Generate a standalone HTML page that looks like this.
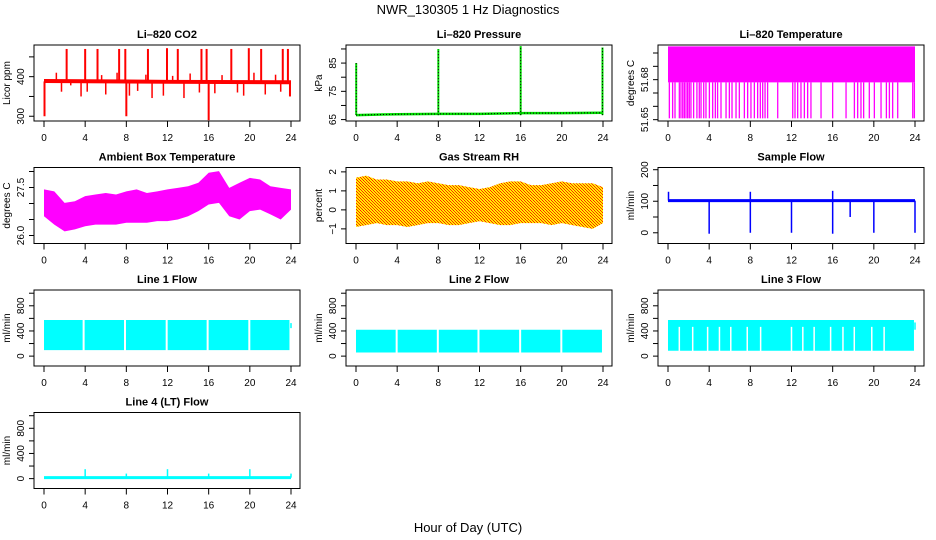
<!DOCTYPE html>
<html><head><meta charset="utf-8">
<style>
html,body{margin:0;padding:0;background:#fff;}
svg{display:block;font-family:"Liberation Sans",Arial,sans-serif;}
</style></head>
<body>
<svg id="chart" width="936" height="540" viewBox="0 0 936 540" xmlns="http://www.w3.org/2000/svg">
<defs>
<pattern id="rhdots" width="3" height="3" patternUnits="userSpaceOnUse">
<rect width="3" height="3" fill="#ffee00"/>
<rect x="0" y="0" width="1" height="1" fill="#ff2200"/>
<rect x="1" y="1" width="1" height="1" fill="#ff3300"/>
<rect x="2" y="2" width="1" height="1" fill="#ff2200"/>
</pattern>
</defs>
<text x="468" y="14" font-size="13" text-anchor="middle">NWR_130305  1 Hz Diagnostics</text>
<text x="468" y="532" font-size="13" text-anchor="middle">Hour of Day (UTC)</text>
</svg>
<script>
// ---------- data ----------
const xTicks=[0,4,8,12,16,20,24];
// CO2
const co2BaseHours=[0,12,24];
const co2BaseValues=[389,387,386];
const co2SpikeHours=[2.2,4.0,5.2,7.3,7.9,10.1,11.95,13.0,15.3,15.8,18.2,19.9,21.1,23.2,23.7];
const co2SpikeValues=[470,470,470,470,470,470,472,470,470,470,470,472,470,470,470];
const co2SmallHours=[1.2,1.7,2.6,3.6,4.2,5.6,6.0,7.1,8.3,9.1,9.9,10.5,11.6,12.5,13.6,14.2,15.1,16.6,17.3,18.8,19.4,20.4,21.5,22.5,23.0];
const co2SmallValues=[410,362,378,350,362,404,355,410,352,364,405,346,352,402,346,408,360,358,404,360,352,410,355,405,362];
const co2DipHours=[0.05,8.0,16.0,23.9];
const co2DipValues=[300,300,290,350];
// Pressure
const presBaseHours=[0,4,8,12,16,20,24];
const presBaseValues=[66.6,66.9,67.0,67.0,67.3,67.3,67.4];
const presSpikeHours=[0.02,8.0,16.0,23.95];
const presSpikeValues=[85,90,91,90.5];
// Li-820 temperature
const tempBandTop=51.705;
const tempBandBottom=51.678;
const tempSpikeHours=[0.13,0.45,0.68,1.10,1.26,1.43,1.59,1.75,1.91,2.07,2.23,2.49,2.81,3.04,3.21,3.47,3.69,4.02,4.34,4.60,4.82,5.15,5.64,5.96,6.22,6.61,6.93,7.42,7.74,8.06,8.39,8.71,8.97,9.20,9.43,9.68,10.66,12.12,12.34,12.60,12.92,13.25,13.57,13.89,14.87,16.0,17.3,18.11,18.43,18.75,19.01,19.56,20.05,20.70,21.22,21.51,21.83,22.32,23.78,23.94];
const tempSpikeValue=51.651;
// Ambient box temperature (hourly envelope)
const ambHours=[0,1,2,3,4,5,6,7,8,9,10,11,12,13,14,15,16,17,18,19,20,21,22,23,24];
const ambTop=[27.44,27.38,27.02,27.07,27.23,27.28,27.33,27.28,27.38,27.44,27.33,27.38,27.44,27.49,27.54,27.65,27.96,28.01,27.49,27.65,27.80,27.75,27.54,27.49,27.44];
const ambBottom=[26.60,26.34,26.13,26.19,26.29,26.34,26.34,26.34,26.40,26.40,26.40,26.45,26.45,26.50,26.60,26.76,26.97,27.02,26.60,26.50,26.76,26.81,26.66,26.50,26.81];
// Gas stream RH (hourly envelope)
const rhTop=[1.7,1.8,1.6,1.6,1.5,1.5,1.4,1.5,1.4,1.3,1.3,1.2,1.1,1.2,1.4,1.5,1.5,1.3,1.3,1.4,1.5,1.4,1.4,1.4,1.2];
const rhBottom=[-0.9,-0.8,-0.7,-0.8,-0.8,-0.9,-0.8,-0.7,-0.7,-0.8,-0.8,-0.7,-0.6,-0.7,-0.8,-0.8,-0.7,-0.7,-0.7,-0.8,-0.7,-0.8,-0.9,-1.0,-0.7];
// Sample flow
const sfBase=102;
const sfDipHours=[4,8,12,16,20,24];
const sfDipValues=[-3,0,0,-3,0,0];
const sfSpikeHours=[0.05,8.0,16.0,17.7];
const sfSpikeValues=[130,130,133,50];
// Line flows
const l1Band=[95,575];
const l1GapHours=[3.85,7.87,11.92,15.9,19.95];
const l2Band=[58,420];
const l2GapHours=[3.95,7.95,11.9,15.95,19.95];
const l3Band=[85,575];
const l3GapHours=[1.1,2.4,3.85,5.0,6.1,7.7,9.0,12.0,13.1,14.2,15.8,17.0,18.1,19.8,21.0];
const l3GapTop=465;
const l4Base=15;
const l4SpikeHours=[4,8,12,16,20,24];
const l4SpikeValues=[150,80,150,80,150,80];

// ---------- helpers ----------
const NS='http://www.w3.org/2000/svg';
const svg=document.getElementById('chart');
function mk(tag,attrs,parent){const e=document.createElementNS(NS,tag);for(const k in attrs)e.setAttribute(k,attrs[k]);(parent||svg).appendChild(e);return e;}

function makePanel(name,col,row,title,ylab,ylim,ticks,labs){
  const L=[34,346,658][col], T=[45,167.5,290,412.5][row], W=266, H=76;
  const g=mk('g',{});
  
  
  const x=h=>L+10+h*247/24;
  const y=v=>T+H-(v-ylim[0])/(ylim[1]-ylim[0])*H;
  const t=mk('text',{x:L+W/2,y:T-7,'font-size':11,'font-weight':'bold','text-anchor':'middle'},g);
  t.textContent=title;
  
  
  const yl=mk('text',{x:0,y:0,'font-size':10,'text-anchor':'middle',transform:`translate(${L-24},${T+H/2}) rotate(-90)`},g);
  yl.textContent=ylab;
  
  
  const xa=mk('g',{},g);
  
  
  mk('line',{x1:x(0),x2:x(24),y1:T+H,y2:T+H,stroke:'#000'},xa);
  xTicks.forEach(h=>{
    mk('line',{x1:x(h),x2:x(h),y1:T+H,y2:T+H+6,stroke:'#000'},xa);
    const lt=mk('text',{x:x(h),y:T+H+20,'font-size':10,'text-anchor':'middle'},xa);
    lt.textContent=h;
  });
  const ya=mk('g',{},g);
  
  
  ticks.forEach((v,i)=>{
    mk('line',{x1:L-5,x2:L,y1:y(v),y2:y(v),stroke:'#000'},ya);
    if(labs[i]!==''){
      const lt=mk('text',{x:0,y:0,'font-size':10,'text-anchor':'middle',transform:`translate(${L-10},${y(v)}) rotate(-90)`},ya);
      lt.textContent=labs[i];
    }
  });
  const data=mk('g',{},g);
  
  
  const box=mk('rect',{x:L,y:T,width:W,height:H,fill:'none',stroke:'#000'},g);
  
  
  return {x,y,g:data};
}
function vline(p,h,v1,v2,color,w,parent,nm){
  const l=mk('line',{x1:p.x(h),x2:p.x(h),y1:p.y(v1),y2:p.y(v2),stroke:color,'stroke-width':w},parent||p.g);
  
  
  return l;
}
function poly(p,hs,vals,color,w,nm){
  const pts=hs.map((h,i)=>p.x(h)+','+p.y(vals[i])).join(' ');
  const l=mk('polyline',{points:pts,fill:'none',stroke:color,'stroke-width':w},p.g);
  
  
  return l;
}
function band(p,hs,top,bot,fill,nm){
  const pts=hs.map((h,i)=>p.x(h)+','+p.y(top[i])).concat(hs.slice().reverse().map((h,i)=>p.x(h)+','+p.y(bot[hs.length-1-i]))).join(' ');
  const a=mk('polygon',{points:pts,fill:fill,stroke:'none'},p.g);
  
  
  return a;
}

// ---------- CO2 ----------
const pCo2=makePanel('co2',0,0,'Li\u2013820 CO2','Licor ppm',[288,480],[300,350,400,450],['300','','400','']);
co2SmallHours.forEach((h,i)=>vline(pCo2,h,co2BaseValues[0]-2,co2SmallValues[i],'#ff0000',1.5,null,'co2-small-spike'));
co2SpikeHours.forEach((h,i)=>vline(pCo2,h,388,co2SpikeValues[i],'#ff0000',2,null,'co2-spike'));
co2DipHours.forEach((h,i)=>vline(pCo2,h,388,co2DipValues[i],'#ff0000',2,null,'co2-dip'));
poly(pCo2,co2BaseHours,co2BaseValues,'#ff0000',4,'co2-baseline');

// ---------- Pressure ----------
const pPres=makePanel('pressure',1,0,'Li\u2013820 Pressure','kPa',[64.5,91.4],[65,70,75,80,85,90],['65','','75','','85','']);
poly(pPres,presBaseHours,presBaseValues,'#00dd00',2.5,'pressure-line');
poly(pPres,presBaseHours,presBaseValues,'#000',1,'pressure-line-dots').setAttribute('stroke-dasharray','1,2');
presSpikeHours.forEach((h,i)=>{
  vline(pPres,h,66.6,presSpikeValues[i],'#00dd00',2,null,'pressure-spike');
  vline(pPres,h,66.6,presSpikeValues[i],'#000',1,null,'pressure-spike-dots').setAttribute('stroke-dasharray','1,2');
});

// ---------- Li-820 temperature ----------
const pTemp=makePanel('licor-temp',2,0,'Li\u2013820 Temperature','degrees C',[51.649,51.706],[51.65,51.66,51.67,51.68,51.69,51.70],['51.65','','','51.68','','']);
band(pTemp,[0,24],[tempBandTop,tempBandTop],[tempBandBottom,tempBandBottom],'#ff00ff','licor-temp-band');
tempSpikeHours.forEach(h=>vline(pTemp,h,tempBandBottom,tempSpikeValue,'#ff00ff',1.3,null,'licor-temp-spike'));

// ---------- Ambient ----------
const pAmb=makePanel('ambient-temp',0,1,'Ambient Box Temperature','degrees C',[25.75,28.125],[26.0,26.5,27.0,27.5,28.0],['26.0','','','27.5','']);
band(pAmb,ambHours,ambTop,ambBottom,'#ff00ff','ambient-temp-band');

// ---------- RH ----------
const pRh=makePanel('gas-rh',1,1,'Gas Stream RH','percent',[-1.77,2.23],[-1,0,1,2],['\u22121','0','1','2']);
band(pRh,ambHours,rhTop,rhBottom,'url(#rhdots)','gas-rh-band');

// ---------- Sample flow ----------
const pSf=makePanel('sample-flow',2,1,'Sample Flow','ml/min',[-34,207],[0,50,100,150,200],['0','','100','','200']);
poly(pSf,[0,24],[sfBase,sfBase],'#0000ff',3,'sample-flow-line');
sfDipHours.forEach((h,i)=>vline(pSf,h,sfBase,sfDipValues[i],'#0000ff',1.5,null,'sample-flow-dip'));
sfSpikeHours.forEach((h,i)=>vline(pSf,h,sfBase,sfSpikeValues[i],'#0000ff',1.5,null,'sample-flow-spike'));

// ---------- Line flows ----------
const flowTicks=[0,200,400,600,800,1000], flowLabs=['0','','400','','800',''];
const pL1=makePanel('line1-flow',0,2,'Line 1 Flow','ml/min',[-157,1051],flowTicks,flowLabs);
band(pL1,[0,23.85],[l1Band[1],l1Band[1]],[l1Band[0],l1Band[0]],'#00ffff','line1-flow-band');
vline(pL1,24,l1Band[0]+350,l1Band[1]-50,'#00ffff',1.5,null,'line1-flow-end');
l1GapHours.forEach(h=>vline(pL1,h,l1Band[0]-5,l1Band[1]+5,'#fff',2,null,'line1-flow-gap'));

const pL2=makePanel('line2-flow',1,2,'Line 2 Flow','ml/min',[-157,1051],flowTicks,flowLabs);
band(pL2,[0,23.9],[l2Band[1],l2Band[1]],[l2Band[0],l2Band[0]],'#00ffff','line2-flow-band');
l2GapHours.forEach(h=>vline(pL2,h,l2Band[0]-5,l2Band[1]+5,'#fff',2,null,'line2-flow-gap'));

const pL3=makePanel('line3-flow',2,2,'Line 3 Flow','ml/min',[-157,1051],flowTicks,flowLabs);
band(pL3,[0,23.9],[l3Band[1],l3Band[1]],[l3Band[0],l3Band[0]],'#00ffff','line3-flow-band');
vline(pL3,24,420,l3Band[1]-40,'#00ffff',1.5,null,'line3-flow-end');
l3GapHours.forEach(h=>vline(pL3,h,l3Band[0]-5,l3GapTop,'#fff',1.5,null,'line3-flow-gap'));

const pL4=makePanel('line4-flow',0,3,'Line 4 (LT) Flow','ml/min',[-157,1051],flowTicks,flowLabs);
poly(pL4,[0,24],[l4Base,l4Base],'#00ffff',3,'line4-flow-line');
l4SpikeHours.forEach((h,i)=>vline(pL4,h,l4Base,l4SpikeValues[i],'#00ffff',1.5,null,'line4-flow-spike'));
</script>
</body></html>
